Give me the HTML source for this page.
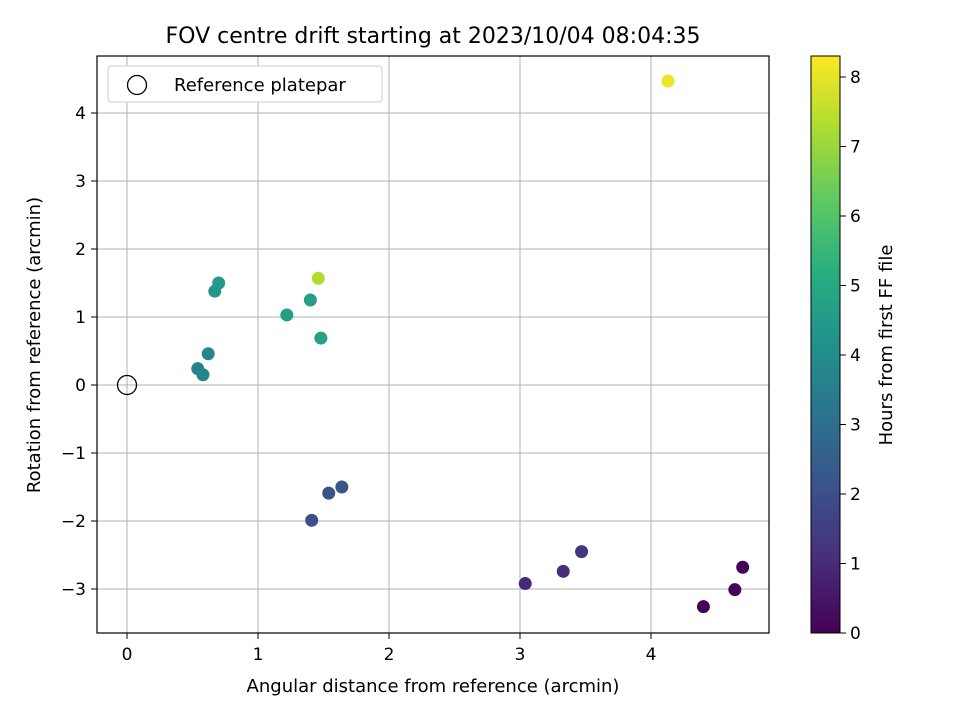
<!DOCTYPE html>
<html><head><meta charset="utf-8"><style>
body{margin:0;background:#fff;}
svg text{font-family:"DejaVu Sans","Liberation Sans",sans-serif;fill:#000;}
</style></head><body>
<svg id="c" width="960" height="720" xmlns="http://www.w3.org/2000/svg">
<defs><linearGradient id="vg" x1="0" y1="1" x2="0" y2="0">
<stop offset="0" stop-color="#440154"/><stop offset="0.125" stop-color="#472d7b"/><stop offset="0.25" stop-color="#3b528b"/><stop offset="0.375" stop-color="#2c728e"/><stop offset="0.5" stop-color="#21918c"/><stop offset="0.625" stop-color="#28ae80"/><stop offset="0.75" stop-color="#5ec962"/><stop offset="0.875" stop-color="#addc30"/><stop offset="1" stop-color="#fde725"/></linearGradient></defs>
<text x="433" y="43" font-size="22" text-anchor="middle">FOV centre drift starting at 2023/10/04 08:04:35</text>
<g id="grid"></g><g id="ticks"></g><g id="pts"></g>
<rect x="97" y="56" width="672" height="577" fill="none" stroke="#000" stroke-width="1.2"/>
<text x="433" y="692" font-size="18" text-anchor="middle">Angular distance from reference (arcmin)</text>
<text transform="translate(40,345) rotate(-90)" font-size="18" text-anchor="middle">Rotation from reference (arcmin)</text>
<g>
<rect x="108" y="66" width="274" height="36" rx="3" fill="#fff" stroke="#ccc"/>
<circle cx="137" cy="85" r="9.5" fill="none" stroke="#000" stroke-width="1.3"/>
<text x="174" y="91" font-size="18">Reference platepar</text>
</g>
<circle cx="127" cy="385" r="9.5" fill="none" stroke="#000" stroke-width="1.3"/>
<rect x="811" y="56" width="29" height="577" fill="url(#vg)" stroke="#000"/>
<g id="cticks"></g>
<text transform="translate(892,345) rotate(-90)" font-size="18" text-anchor="middle">Hours from first FF file</text>
</svg>
<script>
const xs=[4.13,1.46,0.70,0.67,1.22,1.40,1.48,0.62,0.54,0.58,1.64,1.54,1.41,3.47,3.33,3.04,4.70,4.64,4.40];
const ys=[4.47,1.57,1.50,1.38,1.03,1.25,0.69,0.46,0.24,0.15,-1.50,-1.59,-1.99,-2.45,-2.74,-2.92,-2.68,-3.01,-3.26];
const hours=[8.1,7.3,4.5,4.4,4.6,4.6,4.7,3.8,3.6,3.7,2.2,2.1,2.0,1.3,1.1,1.0,0.1,0.1,0.05];
const xTicks=[0,1,2,3,4];
const yTicks=[-3,-2,-1,0,1,2,3,4];
const cTicks=[0,1,2,3,4,5,6,7,8];
const NS="http://www.w3.org/2000/svg";
const X=v=>127+v*131, Y=v=>385-v*68, C=v=>633-v*69.5;
const stops=["#440154","#472d7b","#3b528b","#2c728e","#21918c","#28ae80","#5ec962","#addc30","#fde725"];
function hx(s){return [1,3,5].map(i=>parseInt(s.substr(i,2),16));}
function cmap(h){let t=Math.max(0,Math.min(1,h/8.3))*8;let i=Math.min(7,Math.floor(t)),f=t-i;let a=hx(stops[i]),b=hx(stops[i+1]);return "rgb("+a.map((v,k)=>Math.round(v+(b[k]-v)*f)).join(",")+")";}
function mk(t,at,p){const e=document.createElementNS(NS,t);for(const k in at)e.setAttribute(k,at[k]);document.getElementById(p).appendChild(e);return e;}
xTicks.forEach(v=>{
 let g=mk("line",{x1:X(v),x2:X(v),y1:56,y2:633,stroke:"#b0b0b0","stroke-width":1},"grid");
 
 
 mk("line",{x1:X(v),x2:X(v),y1:633,y2:639,stroke:"#000"},"ticks");
 let t=mk("text",{x:X(v),y:660,"font-size":17,"text-anchor":"middle"},"ticks");t.textContent=v;
 
 
});
yTicks.forEach(v=>{
 let g=mk("line",{x1:97,x2:769,y1:Y(v),y2:Y(v),stroke:"#b0b0b0","stroke-width":1},"grid");
 
 
 mk("line",{x1:91,x2:97,y1:Y(v),y2:Y(v),stroke:"#000"},"ticks");
 let t=mk("text",{x:86,y:Y(v)+6,"font-size":17,"text-anchor":"end"},"ticks");t.textContent=(v<0?"\u2212"+(-v):v);
 
 
});
cTicks.forEach(v=>{
 mk("line",{x1:840,x2:846,y1:C(v),y2:C(v),stroke:"#000"},"cticks");
 let t=mk("text",{x:850,y:C(v)+6,"font-size":17},"cticks");t.textContent=v;
 
 
});
xs.forEach((v,i)=>{
 let c=mk("circle",{cx:X(v),cy:Y(ys[i]),r:6.5,fill:cmap(hours[i])},"pts");
 
 
});
</script>
</body></html>
